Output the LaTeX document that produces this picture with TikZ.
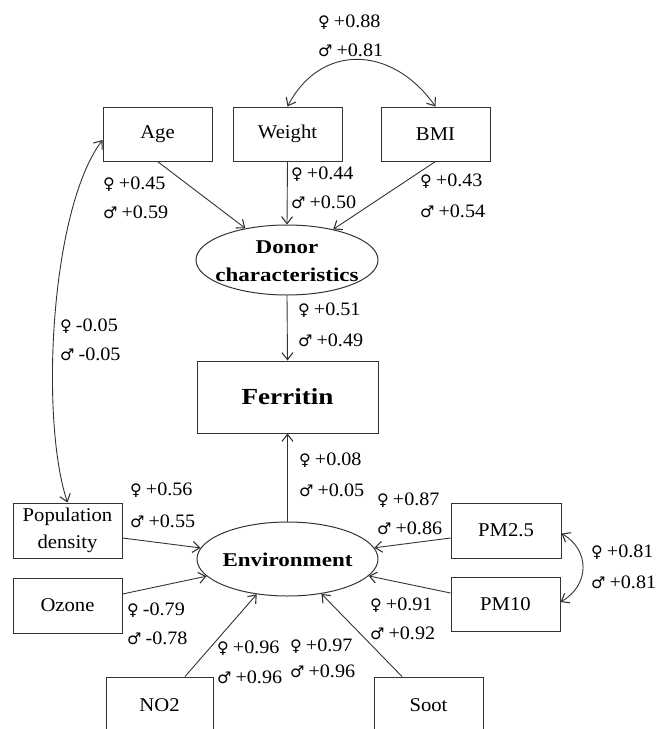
\documentclass[tikz,border=0pt]{standalone}
\usepackage{fontspec}
\setmainfont{Liberation Serif}[FakeStretch=1.06]
\newfontfamily\wbf{Liberation Serif}[FakeStretch=1.18]
\newfontfamily\symf{DejaVu Sans}
\usetikzlibrary{shapes.geometric,arrows.meta,calc}
\newcommand{\fsym}{{\symf\fontsize{16}{16}\selectfont ♀}\hspace{4pt}}
\newcommand{\msym}{{\symf\fontsize{16}{16}\selectfont ♂}\hspace{4pt}}
\tikzset{
 box/.style={draw=black!80, line width=1pt, minimum width=109pt, minimum height=54pt, inner sep=0pt, font=\fontsize{19.5}{27}\selectfont, align=center},
 ell/.style={ellipse, draw=black!80, line width=1pt, inner sep=0pt},
 elltxt/.style={inner sep=0pt, align=center, font=\wbf\bfseries\fontsize{19.5}{28}\selectfont},
 lab/.style={anchor=west, inner sep=0pt, font=\fontsize{19}{20}\selectfont},
 tip/.tip={Straight Barb[length=7pt,width=11pt,line width=1.1pt]},
 arr/.style={draw=black!80, line width=0.9pt, -tip},
 darr/.style={draw=black!80, line width=0.9pt, tip-tip},
}
\begin{document}
\begin{tikzpicture}[x=1pt,y=-1pt]
\useasboundingbox (0,0) rectangle (658,729);
\clip (0,0) rectangle (658,729);
% boxes
\node[box] (age) at (157.5,134) {Age};
\node[box] (weight) at (287.5,134) {Weight};
\node[box] (bmi) at (435.5,134) {BMI};
\node[ell, minimum width=182pt, minimum height=70pt] (donor) at (287,260) {};
\node[elltxt] (donortxt) at (287,261) {Donor\\characteristics};
\node[box, minimum width=181pt, minimum height=72pt, font=\wbf\bfseries\fontsize{23}{26}\selectfont] (ferritin) at (287.5,397) {Ferritin};
\node[ell, minimum width=181pt, minimum height=74pt] (env) at (287.5,559) {};
\node[elltxt] (envtxt) at (287.5,560) {Environment};
\node[box, minimum height=55pt] (pop) at (67.5,530.5) {Population\\density};
\node[box, minimum height=55pt] (ozone) at (67.5,605.5) {Ozone};
\node[box, minimum width=110pt, minimum height=55pt] (pm25) at (506,530.5) {PM2.5};
\node[box] (pm10) at (505.5,604) {PM10};
\node[box, minimum width=107pt, minimum height=56pt] (no2) at (159.5,705) {NO2};
\node[box, minimum height=56pt] (soot) at (428.5,705) {Soot};
% connectors
\draw[darr] (weight.north) .. controls (320,44) and (391,44) .. (bmi.north);
\draw[arr] (age.south) -- (donor);
\draw[arr] (weight.south) -- (donor.north);
\draw[arr] (bmi.south) -- (donor);
\draw[arr] (donor.south) -- (ferritin.north);
\draw[arr] (env.north) -- (ferritin.south);
\draw[darr] ($(age.west)+(0,6)$) .. controls (50,210) and (40,420) .. (pop.north);
\draw[arr] ($(pop.east)+(0,7.5)$) -- (env);
\draw[arr] ($(ozone.east)+(0,-11.5)$) -- (env);
\draw[arr] ($(pm25.west)+(0,7.5)$) -- (env);
\draw[arr] ($(pm10.west)+(0,-11)$) -- (env);
\draw[arr] ($(no2.north)+(25.5,0)$) -- (env);
\draw[arr] ($(soot.north)+(-26.5,0)$) -- (env);
\draw[darr] ($(pm25.east)+(0,3)$) .. controls (590,550) and (590,585) .. ($(pm10.east)+(0,-2)$);
% labels
\node[lab] (a1) at (318,22) {\fsym+0.88};
\node[lab] (a2) at (318,50) {\msym+0.81};
\node[lab] (b1) at (103,184) {\fsym+0.45};
\node[lab] (b2) at (103,212) {\msym+0.59};
\node[lab] (c1) at (291,174) {\fsym+0.44};
\node[lab] (c2) at (291,202) {\msym+0.50};
\node[lab] (d1) at (420,181) {\fsym+0.43};
\node[lab] (d2) at (420,211) {\msym+0.54};
\node[lab] (e1) at (298,310) {\fsym+0.51};
\node[lab] (e2) at (298,340) {\msym+0.49};
\node[lab] (f1) at (60,326) {\fsym-0.05};
\node[lab] (f2) at (60,354) {\msym-0.05};
\node[lab] (g1) at (299,460) {\fsym+0.08};
\node[lab] (g2) at (299,490) {\msym+0.05};
\node[lab] (h1) at (130,490) {\fsym+0.56};
\node[lab] (h2) at (130,521) {\msym+0.55};
\node[lab] (i1) at (377,500) {\fsym+0.87};
\node[lab] (i2) at (377,528) {\msym+0.86};
\node[lab] (j1) at (591,552) {\fsym+0.81};
\node[lab] (j2) at (591,582) {\msym+0.81};
\node[lab] (k1) at (127,610) {\fsym-0.79};
\node[lab] (k2) at (127,638) {\msym-0.78};
\node[lab] (m1) at (370,605) {\fsym+0.91};
\node[lab] (m2) at (370,633) {\msym+0.92};
\node[lab] (n1) at (217,648) {\fsym+0.96};
\node[lab] (n2) at (217,677) {\msym+0.96};
\node[lab] (o1) at (290,646) {\fsym+0.97};
\node[lab] (o2) at (290,671) {\msym+0.96};
\end{tikzpicture}
\end{document}
